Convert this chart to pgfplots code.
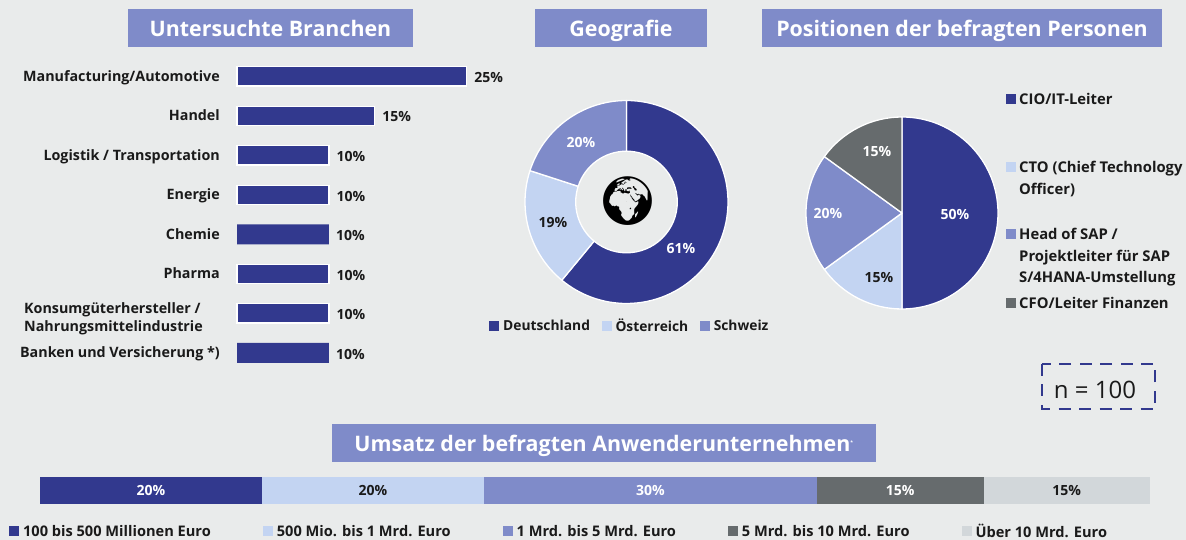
\documentclass[border=0pt]{standalone}
\usepackage{fontspec}
\setmainfont{Open Sans}
\newfontfamily\emoji{Noto Emoji}
\usepackage{pgfplots}
\usepackage{pgfplotstable}
\pgfplotsset{compat=1.18}

\definecolor{bg}{HTML}{E9EBEB}
\definecolor{dkblue}{HTML}{32398E}
\definecolor{ltblue}{HTML}{C3D4F2}
\definecolor{mdblue}{HTML}{7F8BC9}
\definecolor{dkgray}{HTML}{666B6D}
\definecolor{ltgray}{HTML}{D2D7DA}
\definecolor{txt}{HTML}{1A1A1A}
\colorlet{pal0}{dkblue}
\colorlet{pal1}{ltblue}
\colorlet{pal2}{mdblue}
\colorlet{pal3}{dkgray}

% ring sector per table row: start angle, share in %, colour index
\pgfplotsset{
  /pgf/number format/assume math mode=true,
  ring/.style 2 args={
    forget plot, only marks, mark=*, mark size=0pt, scatter, scatter src=\thisrow{share},
    visualization depends on={\thisrow{start} \as \wstart},
    visualization depends on={\thisrow{share} \as \wshare},
    visualization depends on={\thisrow{col} \as \wcol},
    scatter/@pre marker code/.code={
      \pgfmathsetmacro\wend{\wstart-3.6*\wshare}
      \pgfmathtruncatemacro\wci{\wcol}
      \path[draw=white,line width=1.3pt,fill=pal\wci,line join=round]
        (\wstart:#1pt) arc[start angle=\wstart,end angle=\wend,radius=#1pt]
        -- (\wend:#2pt) arc[start angle=\wend,end angle=\wstart,radius=#2pt] -- cycle;
      \begin{scope}
    },
    scatter/@post marker code/.code={\end{scope}},
  },
  sq/.style={legend image code/.code={\path[##1,draw=none] (0pt,-5pt) rectangle (10pt,5pt);}},
  pieaxis/.style={
    hide axis, scale only axis, clip=false, clip mode=global, width=220pt, height=220pt,
    xmin=-110, xmax=110, ymin=-110, ymax=110, anchor=center,
  },
  lab/.style={every node near coord/.style={
    font=\fontsize{14}{14}\selectfont\bfseries, anchor=center, inner sep=0pt, text=#1}},
}

\pgfplotstableread{
x y share start col
0 0 61 90 0
0 0 19 -129.6 1
0 0 20 162 2
}\geodata
\pgfplotstableread{
x y share start col
0 0 50 90 0
0 0 15 -90 1
0 0 20 -144 2
0 0 15 144 3
}\posdata

\newcommand{\titlebox}[4]{% x0, x1, y(px, top), text
  \fill[mdblue] (#1,540-#3) rectangle (#2,540-#3-38);
  \node[anchor=base,inner sep=0pt,text=white,font=\fontsize{21.4}{21.4}\selectfont\bfseries] at ({(#1+#2)/2},540-#3-28) {#4};
}
\newcommand{\legitem}[3]{% y(px), colour, text
  \fill[#2] (1006,540-#1-5) rectangle (1015.5,540-#1+5);
  \node[anchor=north west,inner sep=0pt,text=txt,align=left,font=\fontsize{14.8}{21.5}\selectfont\bfseries]
    at (1019,540-#1+6) {#3};
}
\newcommand{\pielab}[4]{% x, y, colour, text
  \node[font=\fontsize{14}{14}\selectfont\bfseries,text=#3] at (axis cs:#1,#2) {#4};
}

\begin{document}
\begin{tikzpicture}[x=1pt,y=1pt]
\useasboundingbox (0,0) rectangle (1186,540);
\fill[bg] (0,0) rectangle (1186,540);

\titlebox{128}{413}{9}{Untersuchte Branchen}
\titlebox{535}{707}{9}{Geografie}
\titlebox{762}{1162}{9}{Positionen der befragten Personen}
\titlebox{332}{876}{424}{Umsatz der befragten Anwenderunternehmen\textsuperscript{\tiny*}}

% Branchen
\begin{axis}[
  at={(351.85pt,325.25pt)}, anchor=center,
  scale only axis, width=229.7pt, height=316pt, clip=false,
  xbar, bar width=19.3pt, bar shift=0pt,
  xmin=0, xmax=25, ymin=-0.5, ymax=7.5, y dir=reverse,
  hide x axis, axis y line*=left, y axis line style={draw=none}, ytick style={draw=none},
  ytick={0,...,7}, major tick length=0pt,
  yticklabels={Manufacturing/Automotive,Handel,Logistik / Transportation,Energie,Chemie,Pharma,
    {\mbox{\raisebox{-13pt}[0pt][0pt]{\vbox{\hbox{Konsumgüterhersteller /}\hbox{Nahrungsmittelindustrie}}}\kern17pt}},
    Banken und Versicherung *)},
  yticklabel style={font=\fontsize{14.3}{18}\selectfont\bfseries, text=txt, inner sep=0pt, xshift=-17pt,
    text height=10pt, text depth=0pt},
  nodes near coords={\pgfmathprintnumber{\pgfplotspointmeta}\%},
  nodes near coords align=horizontal,
  every node near coord/.append style={font=\fontsize{14}{14}\selectfont\bfseries, text=txt, inner sep=0pt, xshift=7pt, yshift=-1pt},
]
\addplot[fill=dkblue, draw=white, line width=1.3pt] coordinates {
  (25,0) (15,1) (10,2) (10,3) (10,5) (10,6)};
\addplot[fill=dkblue, draw=none, bar width=20pt] coordinates {(10,4) (10,7)};
\end{axis}

% Geografie
\begin{axis}[pieaxis, at={(626.5pt,338pt)},
  legend style={at={(axis cs:-137.5,-124)}, anchor=west, draw=none, fill=none, legend columns=3,
    font=\fontsize{13.8}{14}\selectfont\bfseries, text=txt, inner sep=0pt,
    /tikz/every even column/.append style={column sep=9.5pt},
    /tikz/every odd column/.append style={column sep=2pt}},
  legend cell align=left,
  after end axis/.code={
    \pielab{54.5}{-46.2}{white}{61\%}
    \pielab{-73.5}{-20.2}{txt}{19\%}
    \pielab{-45.5}{59.8}{white}{20\%}
  },
]
\addplot[ring={101.5}{50.8}] table[x=x,y=y] {\geodata};
\addlegendimage{sq,fill=dkblue}\addlegendentry{Deutschland}
\addlegendimage{sq,fill=ltblue}\addlegendentry{Österreich}
\addlegendimage{sq,fill=mdblue}\addlegendentry{Schweiz}
\node[font=\emoji\fontsize{48}{48}\selectfont,text=black] at (axis cs:1,1) {🌍};
\end{axis}

% Positionen
\begin{axis}[pieaxis, at={(902pt,327pt)},
  after end axis/.code={
    \pielab{53}{-1.5}{white}{50\%}
    \pielab{-23}{-64.5}{txt}{15\%}
    \pielab{-74}{-0.5}{white}{20\%}
    \pielab{-25}{61}{white}{15\%}
  },
]
\addplot[ring={96}{0.01}] table[x=x,y=y] {\posdata};
\end{axis}
\legitem{99}{dkblue}{CIO/IT-Leiter}
\legitem{167}{ltblue}{CTO (Chief Technology\\Officer)}
\legitem{234}{mdblue}{Head of SAP /\\Projektleiter für SAP\\S/4HANA-Umstellung}
\legitem{303}{dkgray}{CFO/Leiter Finanzen}

\draw[dkblue,line width=2.5pt,dash pattern=on 12pt off 8.5pt] (1042,540-364) rectangle (1155,540-409);
\node[text=txt,font=\fontsize{24}{24}\selectfont] at (1095,540-390) {n = 100};

% Umsatz
\begin{axis}[
  at={(595pt,49.65pt)}, anchor=center,
  scale only axis, width=1110pt, height=27.3pt, clip=false,
  xbar stacked, bar width=27.3pt,
  xmin=0, xmax=100, ymin=-0.5, ymax=0.5,
  hide axis,
  nodes near coords={\pgfmathprintnumber{\pgfplotspointmeta}\%},
  legend style={at={(axis cs:-2.8,-1.5)}, anchor=west, draw=none, fill=none, legend columns=5,
    font=\fontsize{14.6}{14.6}\selectfont\bfseries, text=txt, inner sep=0pt,
    /tikz/every even column/.append style={column sep=50pt},
    /tikz/every odd column/.append style={column sep=2pt}},
  legend cell align=left,
]
\addplot[sq, fill=dkblue, draw=none, lab=white] coordinates {(20,0)};
\addlegendentry{100 bis 500 Millionen Euro}
\addplot[sq, fill=ltblue, draw=none, lab=txt] coordinates {(20,0)};
\addlegendentry{500 Mio. bis 1 Mrd. Euro}
\addplot[sq, fill=mdblue, draw=none, lab=white] coordinates {(30,0)};
\addlegendentry{1 Mrd. bis 5 Mrd. Euro}
\addplot[sq, fill=dkgray, draw=none, lab=white] coordinates {(15,0)};
\addlegendentry{5 Mrd. bis 10 Mrd. Euro}
\addplot[sq, fill=ltgray, draw=none, lab=txt] coordinates {(15,0)};
\addlegendentry{Über 10 Mrd. Euro}
\end{axis}
\end{tikzpicture}
\end{document}
